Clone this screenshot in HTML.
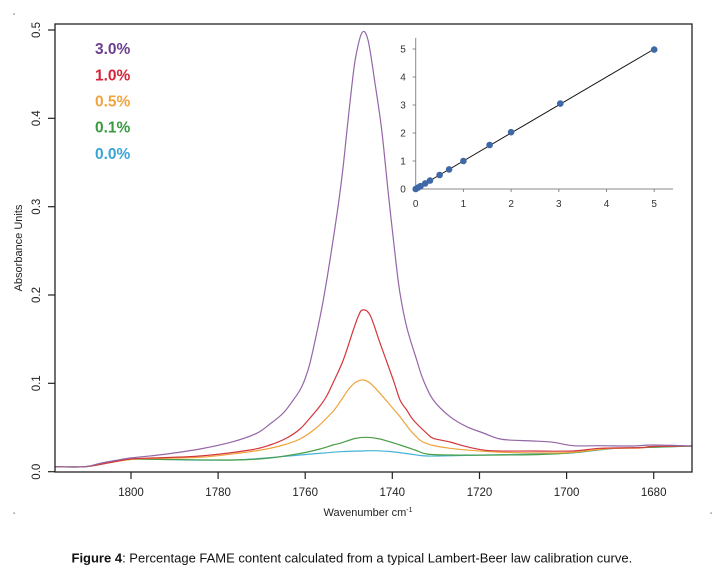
<!DOCTYPE html>
<html>
<head>
<meta charset="utf-8">
<style>
html,body{margin:0;padding:0;background:#fff;}
svg{display:block;}
text{font-family:"Liberation Sans",Arial,sans-serif;}
</style>
</head>
<body>
<svg id="chart" width="716" height="582" viewBox="0 0 716 582" xmlns="http://www.w3.org/2000/svg">
<rect x="0" y="0" width="716" height="582" fill="#fff"/>
<!-- corner dots -->
<rect x="13.5" y="13.5" width="1.2" height="1.2" fill="#555"/>
<rect x="13.5" y="512.5" width="1.2" height="1.2" fill="#555"/>
<rect x="710.5" y="512.5" width="1.2" height="1.2" fill="#555"/>

<!-- curves -->
<g id="curves" fill="none" stroke-width="1.2" stroke-linejoin="round" stroke-linecap="round">
<polyline stroke="#45b3d6" points="55,466.7 85,466.7 110,462.5 130,459.5 150,459.3 233.3,460 300,455 340,451.7 360,451 373,450.7 390,451.5 410,454 426.7,456 460,455.5 500,454.7 540,454 573.3,452.8 613.3,448.5 640,447.7 692,446"/>
<polyline stroke="#4a9e48" points="55,466.7 85,466.7 110,462.5 130,459.5 150,459.3 233.3,460 270,458 300,453.5 320,449 333,445 340,443.3 355,438.5 366.7,437.3 380,439 400,445 415,450 426.7,454 450,455 500,455 540,454.5 573.3,452.7 600,449.5 613.3,448.3 640,447.7 692,446"/>
<polyline stroke="#eea33c" points="55,466.7 85,466.7 110,462.5 130,459.5 150,458.5 200,457.3 240,453 266.7,449 285,444.5 300,439 315,429 326.7,418 335,409 343.3,397 350,387.5 357,381.5 363.3,380 370,383 380,393.3 390,405 400,416.7 410,430 416.7,437 422,441.5 433.3,445.5 450,448.3 466.7,450 490,451.7 520,452.7 566.7,452.7 590,450.5 613.3,448.3 640,448 653,446.5 692,446"/>
<polyline stroke="#d3363a" points="55,466.7 85,466.7 110,462.5 130,459 143.3,458.3 200,456 250,450 270,445 286.7,438 300,429 310,418 320,406 326.7,396 333,383 343.3,360 353.3,330 358,317 362.3,310 370,315 380,343 393.3,380 400,400 406.7,410 413.3,420 426.7,433.3 433.3,438.3 450,442 466.7,446.7 490,450.7 533.3,451 573.3,451 600,448.3 640,447.7 653,446.5 692,446"/>
<polyline stroke="#9466a6" points="55,466.7 85,466.7 100,463.3 115,460.5 130,458 143,456.7 166.7,454 200,449 233,441.7 256.7,433.3 270,424 283.3,413 293.3,400 300,390 305,379 310,363 318,327 323.3,300 330,260 338,207 343,168 347,130 351.7,87 355.7,57 362,32.7 368,40 375,83.3 381.7,130 388.3,193.3 395.7,260 400,293.3 406.7,327 416.7,360 423.3,380 433.3,400 450,416.7 466.7,426.7 483.3,433 500,439 520,440.5 533.3,441 553.3,442.3 573.3,445.7 600,445.7 633,446 653,445 692,446"/>
</g>

<!-- main box -->
<rect x="55" y="24" width="637" height="448" fill="none" stroke="#222" stroke-width="1.3"/>

<!-- y ticks -->
<g stroke="#222" stroke-width="1.2">
<line x1="48" y1="30" x2="55" y2="30"/>
<line x1="48" y1="118.3" x2="55" y2="118.3"/>
<line x1="48" y1="206.7" x2="55" y2="206.7"/>
<line x1="48" y1="295" x2="55" y2="295"/>
<line x1="48" y1="383.3" x2="55" y2="383.3"/>
<line x1="48" y1="471.7" x2="55" y2="471.7"/>
</g>
<g font-size="11.5" fill="#222" text-anchor="middle">
<text transform="translate(40,30) rotate(-90)">0.5</text>
<text transform="translate(40,118.3) rotate(-90)">0.4</text>
<text transform="translate(40,206.7) rotate(-90)">0.3</text>
<text transform="translate(40,295) rotate(-90)">0.2</text>
<text transform="translate(40,383.3) rotate(-90)">0.1</text>
<text transform="translate(40,471.7) rotate(-90)">0.0</text>
<text transform="translate(22,248) rotate(-90)" font-size="11">Absorbance Units</text>
</g>

<!-- x ticks -->
<g stroke="#222" stroke-width="1.2">
<line x1="131" y1="472" x2="131" y2="479"/>
<line x1="218.1" y1="472" x2="218.1" y2="479"/>
<line x1="305.2" y1="472" x2="305.2" y2="479"/>
<line x1="392.3" y1="472" x2="392.3" y2="479"/>
<line x1="479.5" y1="472" x2="479.5" y2="479"/>
<line x1="566.6" y1="472" x2="566.6" y2="479"/>
<line x1="653.7" y1="472" x2="653.7" y2="479"/>
</g>
<g font-size="11.5" fill="#222" text-anchor="middle">
<text x="131" y="496">1800</text>
<text x="218.1" y="496">1780</text>
<text x="305.2" y="496">1760</text>
<text x="392.3" y="496">1740</text>
<text x="479.5" y="496">1720</text>
<text x="566.6" y="496">1700</text>
<text x="653.7" y="496">1680</text>
<text x="368" y="516" font-size="11">Wavenumber cm<tspan font-size="7" dy="-4">-1</tspan></text>
</g>

<!-- legend -->
<g font-size="15.5" font-weight="bold">
<text x="95" y="54" fill="#6c3f8e">3.0%</text>
<text x="95" y="80.5" fill="#d3263a">1.0%</text>
<text x="95" y="106.5" fill="#f0a440">0.5%</text>
<text x="95" y="132.5" fill="#3a9a3e">0.1%</text>
<text x="95" y="159" fill="#3aa4d6">0.0%</text>
</g>

<!-- inset -->
<g stroke="#888" stroke-width="1">
<line x1="415.7" y1="38" x2="415.7" y2="189"/>
<line x1="415.7" y1="189" x2="673" y2="189"/>
<line x1="412.7" y1="189" x2="415.7" y2="189"/>
<line x1="412.7" y1="161" x2="415.7" y2="161"/>
<line x1="412.7" y1="133" x2="415.7" y2="133"/>
<line x1="412.7" y1="105" x2="415.7" y2="105"/>
<line x1="412.7" y1="77" x2="415.7" y2="77"/>
<line x1="412.7" y1="49" x2="415.7" y2="49"/>
<line x1="415.7" y1="189" x2="415.7" y2="192"/>
<line x1="463.4" y1="189" x2="463.4" y2="192"/>
<line x1="511.1" y1="189" x2="511.1" y2="192"/>
<line x1="558.8" y1="189" x2="558.8" y2="192"/>
<line x1="606.5" y1="189" x2="606.5" y2="192"/>
<line x1="654.2" y1="189" x2="654.2" y2="192"/>
</g>
<g font-size="10" fill="#333" text-anchor="middle">
<text x="403" y="192.5">0</text>
<text x="403" y="164.5">1</text>
<text x="403" y="136.5">2</text>
<text x="403" y="108.5">3</text>
<text x="403" y="80.5">4</text>
<text x="403" y="52.5">5</text>
<text x="415.7" y="207">0</text>
<text x="463.4" y="207">1</text>
<text x="511.1" y="207">2</text>
<text x="558.8" y="207">3</text>
<text x="606.5" y="207">4</text>
<text x="654.2" y="207">5</text>
</g>
<line x1="415.7" y1="189" x2="654.2" y2="49" stroke="#111" stroke-width="1"/>
<g fill="#3f69a6">
<circle cx="415.7" cy="189" r="3.3"/>
<circle cx="418.1" cy="187.6" r="3.3"/>
<circle cx="420.5" cy="186.2" r="3.3"/>
<circle cx="425.2" cy="183.4" r="3.3"/>
<circle cx="430" cy="180.6" r="3.3"/>
<circle cx="439.6" cy="175" r="3.3"/>
<circle cx="449.1" cy="169.4" r="3.3"/>
<circle cx="463.4" cy="161" r="3.3"/>
<circle cx="489.6" cy="145" r="3.3"/>
<circle cx="511.1" cy="132.2" r="3.3"/>
<circle cx="560.3" cy="103.6" r="3.3"/>
<circle cx="654.2" cy="49.6" r="3.3"/>
</g>

<!-- caption -->
<text x="71.5" y="562.5" font-size="13" fill="#111"><tspan font-weight="bold">Figure 4</tspan>: Percentage FAME content calculated from a typical Lambert-Beer law calibration curve.</text>
</svg>
<script>
(function(){
  var ns="http://www.w3.org/2000/svg";
  var g=document.getElementById("curves");
  var pls=g.querySelectorAll("polyline");
  for(var k=0;k<pls.length;k++){
    var pl=pls[k];
    var nums=pl.getAttribute("points").trim().split(/[\s,]+/).map(Number);
    var p=[];
    for(var i=0;i<nums.length;i+=2)p.push([nums[i],nums[i+1]]);
    var d="M"+p[0][0]+","+p[0][1];
    for(var i=0;i<p.length-1;i++){
      var p0=p[i>0?i-1:i],p1=p[i],p2=p[i+1],p3=p[i+2<p.length?i+2:i+1];
      var c1x=p1[0]+(p2[0]-p0[0])/6,c1y=p1[1]+(p2[1]-p0[1])/6;
      var c2x=p2[0]-(p3[0]-p1[0])/6,c2y=p2[1]-(p3[1]-p1[1])/6;
      d+=" C"+c1x.toFixed(2)+","+c1y.toFixed(2)+" "+c2x.toFixed(2)+","+c2y.toFixed(2)+" "+p2[0]+","+p2[1];
    }
    var path=document.createElementNS(ns,"path");
    path.setAttribute("d",d);
    path.setAttribute("stroke",pl.getAttribute("stroke"));
    g.replaceChild(path,pl);
  }
})();
</script>
</body>
</html>
